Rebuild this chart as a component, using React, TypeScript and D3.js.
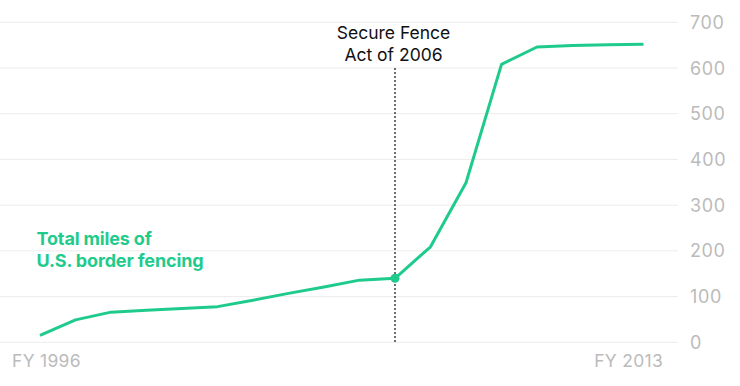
import React from "react";
import * as d3 from "d3";

const years = [1996, 1997, 1998, 1999, 2000, 2001, 2002, 2003, 2004, 2005, 2006, 2007, 2008, 2009, 2010, 2011, 2012, 2013];
const miles = [15, 49, 66, 70, 74, 78, 92, 107, 121, 136, 140, 209, 349, 608, 646, 649, 651, 652];
const yTicks = [0, 100, 200, 300, 400, 500, 600, 700];
const xLabels = ["FY 1996", "FY 2013"];
const annotationYear = 2006;
const annotationLines = ["Secure Fence", "Act of 2006"];
const seriesLabel = ["Total miles of", "U.S. border fencing"];

const W = 740;
const H = 386;
const GREEN = "#1fcb8c";
const GRAY = "#bbbbbb";
const FONT = "Inter, 'Noto Sans', sans-serif";

export default function App() {
  const x = d3.scaleLinear().domain([years[0], years[years.length - 1]]).range([40, 643.5]);
  const y = d3.scaleLinear().domain([0, 700]).range([342.3, 22.3]);
  const data = years.map((yr, i) => ({ yr, v: miles[i] }));
  const line = d3
    .line<{ yr: number; v: number }>()
    .x((d) => x(d.yr))
    .y((d) => y(d.v));
  const ann = data.find((d) => d.yr === annotationYear)!;

  return (
    <svg width={W} height={H} style={{ position: "absolute", left: 0, top: 0 }} fontFamily={FONT}>
      <rect width={W} height={H} fill="#fff" />
      {yTicks.map((t) => (
        <g key={t}>
          <line x1={0} x2={678} y1={y(t)} y2={y(t)} stroke="#ececec" strokeWidth={1} />
          <text x={690} y={y(t) + 6.5} fontSize={18} fill={GRAY} letterSpacing={0.6}>
            {t}
          </text>
        </g>
      ))}
      <text x={12} y={367} fontSize={17.5} fill={GRAY} letterSpacing={0.3}>
        {xLabels[0]}
      </text>
      <text x={663} y={367} fontSize={17.5} fill={GRAY} textAnchor="end" letterSpacing={0.3}>
        {xLabels[1]}
      </text>
      <line
        x1={x(annotationYear)}
        x2={x(annotationYear)}
        y1={68}
        y2={y(0)}
        stroke="#222"
        strokeWidth={1.3}
        strokeDasharray="2,2"
      />
      {annotationLines.map((s, i) => (
        <text key={s} x={x(annotationYear) - 1.5} y={39 + i * 22} fontSize={17.5} fill="#111" textAnchor="middle">
          {s}
        </text>
      ))}
      <path d={line(data) ?? ""} fill="none" stroke={GREEN} strokeWidth={3} strokeLinejoin="round" />
      <circle cx={x(ann.yr)} cy={y(ann.v)} r={4.5} fill={GREEN} />
      {seriesLabel.map((s, i) => (
        <text key={s} x={36.5} y={245 + i * 21.5} fontSize={18} fontWeight={700} fill={GREEN} letterSpacing={-0.15}>
          {s}
        </text>
      ))}
    </svg>
  );
}
